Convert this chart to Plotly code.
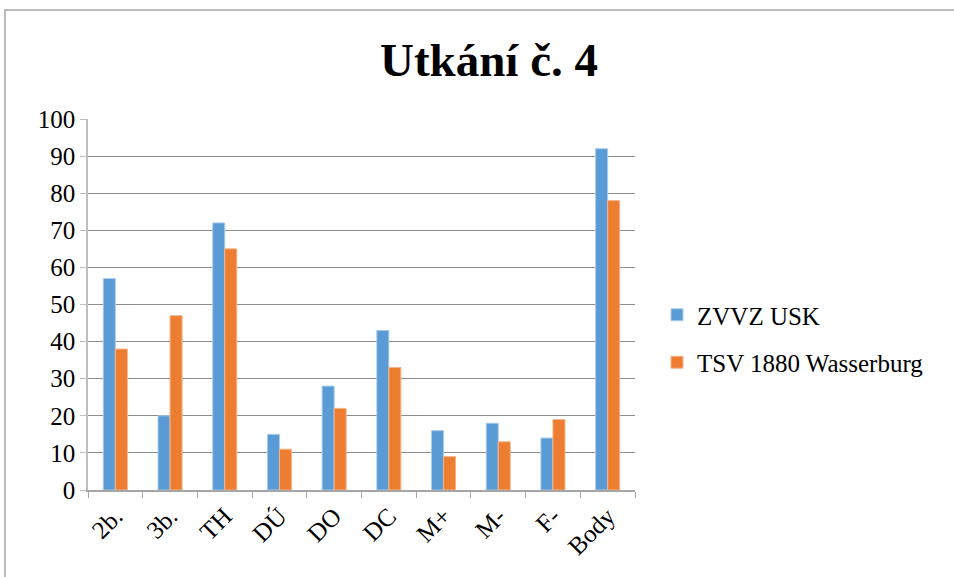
import plotly.graph_objects as go

categories = ["2b.", "3b.", "TH", "DÚ", "DO", "DC", "M+", "M-", "F-", "Body"]
zvvz_usk = [57, 20, 72, 15, 28, 43, 16, 18, 14, 92]
tsv_wasserburg = [38, 47, 65, 11, 22, 33, 9, 13, 19, 78]
y_ticks = [0, 10, 20, 30, 40, 50, 60, 70, 80, 90, 100]

FONT = "Liberation Serif"
L, R, T, B = 88, 319, 119, 87
W, H = 954, 577
pw, ph = W - L - R, H - T - B

fig = go.Figure()
fig.add_trace(go.Bar(x=categories, y=zvvz_usk, name="ZVVZ USK", legendgroup="a",
                     marker=dict(color="#5B9BD5", line=dict(color="#A9CBEB", width=1))))
fig.add_trace(go.Bar(x=categories, y=tsv_wasserburg, name="TSV 1880 Wasserburg", legendgroup="b",
                     marker=dict(color="#ED7D31", line=dict(color="#F5B48A", width=1))))

def px_x(p):
    return (p - L) / pw

def px_y(p):
    return (H - B - p) / ph

fig.update_layout(
    width=W, height=H,
    margin=dict(l=L, r=R, t=T, b=B, autoexpand=False),
    paper_bgcolor="white", plot_bgcolor="white",
    barmode="group", bargap=0.56, bargroupgap=0,
    font=dict(family=FONT, color="black", size=25),
    title=dict(text="<b>Utkání č. 4</b>", x=px_x(489), xref="paper", xanchor="center",
               y=1 - 60 / H, yanchor="middle",
               font=dict(family=FONT, size=47, color="black")),
    showlegend=True,
    legend=dict(x=px_x(657), y=px_y(292), xanchor="left", yanchor="top",
                font=dict(family=FONT, size=25, color="black"),
                traceorder="grouped",
                itemwidth=30, tracegroupgap=12, bgcolor="rgba(0,0,0,0)"),
    xaxis=dict(type="category", tickangle=-45, tickfont=dict(family=FONT, size=25, color="black"),
               showline=True, linecolor="#A6A6A6", linewidth=1.5,
               ticks="outside", ticklen=6, tickcolor="#A6A6A6", tickson="boundaries",
               showgrid=False, fixedrange=True, automargin=False),
    yaxis=dict(range=[0, 100], tickvals=y_ticks, tickfont=dict(family=FONT, size=25, color="black"),
               showline=True, linecolor="#BFBFBF", linewidth=1.5,
               ticks="outside", ticklen=6, tickcolor="#BFBFBF",
               showgrid=True, gridcolor="#8C8C8C", gridwidth=1, zeroline=False,
               fixedrange=True, automargin=False),
    shapes=[dict(type="rect", xref="paper", yref="paper",
                 x0=px_x(5), x1=px_x(W + 20), y0=px_y(H + 20), y1=px_y(10),
                 line=dict(color="#A6A6A6", width=1.5), fillcolor="rgba(0,0,0,0)",
                 layer="below")],
)

fig.write_html("out.html", config={"displayModeBar": False},
               post_script="document.body.style.margin='0px';document.body.style.overflow='hidden';")
